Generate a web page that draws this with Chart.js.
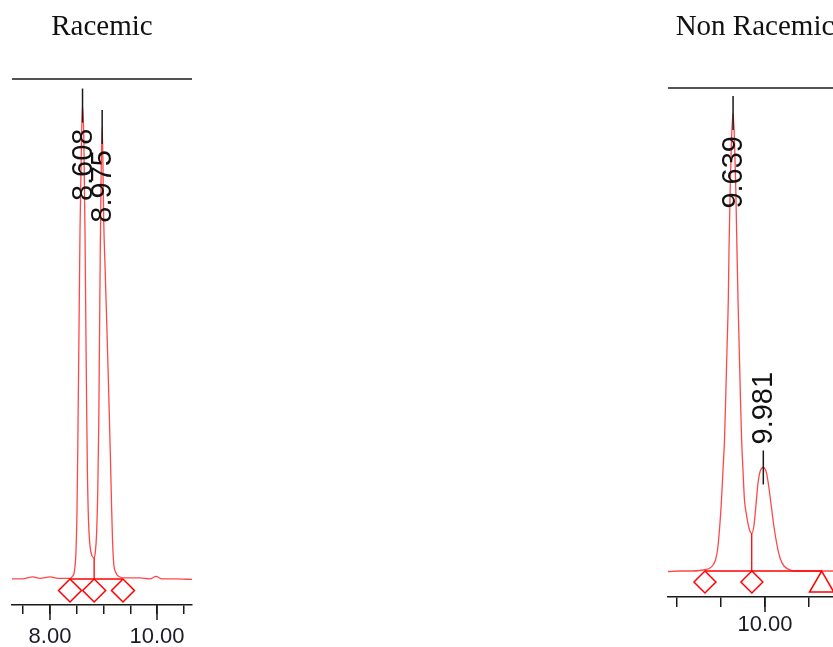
<!DOCTYPE html>
<html>
<head>
<meta charset="utf-8">
<script src="https://cdn.jsdelivr.net/npm/chart.js@4.4.1/dist/chart.umd.min.js"></script>
<style>
  html, body { margin: 0; padding: 0; background: #fff; overflow: hidden; }
  #wrap { position: relative; width: 833px; height: 647px; overflow: hidden; }
  #left { position: absolute; left: 0; top: 0; }
  #right { position: absolute; left: 640px; top: 0; }
</style>
</head>
<body>
<div id="wrap">
  <canvas id="left" width="205" height="660"></canvas>
  <canvas id="right" width="202" height="647"></canvas>
</div>
<script>
// Racemic run: retention time (min) vs detector signal
var leftTime = [7.290, 7.477, 7.682, 7.813, 8.000, 8.150, 8.299, 8.374, 8.411, 8.458, 8.486, 8.505, 8.523,
  8.542, 8.561, 8.589, 8.608, 8.633, 8.654, 8.671, 8.684, 8.699, 8.720, 8.748, 8.785, 8.825, 8.845, 8.869,
  8.893, 8.912, 8.925, 8.940, 8.957, 8.975, 8.988, 9.003, 9.030, 9.058, 9.085, 9.108, 9.130, 9.150, 9.168,
  9.190, 9.234, 9.308, 9.383, 9.495, 9.682, 9.869, 9.981, 10.093, 10.336, 10.654];
var leftSignal = [0, 0, 0.4, 0.1, 0.4, 0.1, 0.1, 0.1, 0.4, 1.6, 5.6, 13.6, 29.6,
  49.6, 69.6, 87.6, 94.5, 87.6, 69.6, 49.6, 35.6, 21.6, 11.6, 6.6, 4.6, 4.2, 5.2, 8.6,
  17.6, 31.6, 47.6, 65.6, 81.6, 90.2, 84, 72, 62, 52, 42, 33, 24, 15, 8,
  3.2, 1.2, 0.4, 0.2, 0.2, 0.2, 0, 0.5, 0, 0, -0.1];
var leftPeaks = [8.608, 8.975];
var leftValley = 8.825;
var leftMarks = [8.374, 8.825, 9.364];
var leftMarkShapes = ['rectRot', 'rectRot', 'rectRot'];
var leftTicks = [8, 10];

// Non racemic run
var rightTime = [8.903, 9.038, 9.174, 9.265, 9.333, 9.378, 9.412, 9.440, 9.463, 9.485, 9.508, 9.525, 9.542,
  9.555, 9.570, 9.585, 9.593, 9.606, 9.621, 9.639, 9.655, 9.670, 9.683, 9.695, 9.709, 9.723, 9.736, 9.751,
  9.768, 9.791, 9.819, 9.850, 9.876, 9.898, 9.921, 9.943, 9.981, 10.017, 10.045, 10.074, 10.102, 10.136,
  10.170, 10.215, 10.271, 10.339, 10.452, 10.622, 10.871];
var rightSignal = [-0.1, 0, 0, 0.1, 0.3, 0.6, 1.2, 2.2, 4.2, 8.2, 14.2, 20.2, 26.2,
  34.2, 44.2, 54.2, 64.2, 76.2, 86.2, 91.6, 86.2, 76.2, 64.2, 54.2, 44.2, 34.2, 26.2, 20.2,
  14.2, 11.2, 8.6, 7.5, 9.2, 13.2, 17.6, 19.8, 20.7, 19.6, 16.6, 12.6, 8.8, 5.2,
  2.6, 1.0, 0.3, 0, 0, 0, 0];
var rightPeaks = [9.639, 9.981];
var rightValley = 9.850;
var rightMarks = [9.321, 9.852, 10.641];
var rightMarkShapes = ['rectRot', 'rectRot', 'triangle'];
var rightTicks = [10];

var RED = '#ff0000';
var INK = '#1a1a1a';
var PX_PER_UNIT = 5;

function signalAt(times, signal, t) {
  return signal[times.indexOf(t)];
}

// top border, long major ticks and the rotated retention-time labels
var chromDecor = {
  id: 'chromDecor',
  afterDraw: function(chart, args, opts) {
    var ctx = chart.ctx, area = chart.chartArea;
    var xs = chart.scales.x, ys = chart.scales.y;
    ctx.save();
    ctx.strokeStyle = INK;
    ctx.lineWidth = 1.6;
    ctx.beginPath();
    ctx.moveTo(area.left, area.top);
    ctx.lineTo(area.right, area.top);
    ctx.stroke();

    ctx.lineWidth = 1.5;
    opts.majors.forEach(function(v) {
      var x = xs.getPixelForValue(v);
      ctx.beginPath();
      ctx.moveTo(x, area.bottom);
      ctx.lineTo(x, area.bottom + opts.minorLen + opts.majorExtra);
      ctx.stroke();
    });

    ctx.font = '29px "Liberation Sans", Arial, sans-serif';
    ctx.fillStyle = '#111';
    opts.peaks.forEach(function(p) {
      var x = xs.getPixelForValue(p.t);
      var ya = ys.getPixelForValue(p.apex);
      var half = 17, gap = 6;
      ctx.beginPath();
      ctx.moveTo(x, ya - half);
      ctx.lineTo(x, ya + half);
      ctx.stroke();
      var text = p.t.toFixed(3);
      var w = ctx.measureText(text).width;
      var above = ya - half - gap - w > area.top;
      var start = above ? ya - half - gap : ya + half + gap + w;
      ctx.save();
      ctx.translate(x, start);
      ctx.rotate(-Math.PI / 2);
      ctx.textAlign = 'left';
      ctx.textBaseline = 'middle';
      ctx.fillText(text, 0, 1);
      ctx.restore();
    });
    ctx.restore();
  }
};

function buildChart(id, cfg) {
  var trace = cfg.time.map(function(t, i) { return {x: t, y: cfg.signal[i]}; });
  var marks = cfg.marks.map(function(t, i) {
    var r = cfg.shapes[i] === 'triangle' ? 14 : cfg.markRadius;
    return {x: t, y: -r / PX_PER_UNIT};
  });
  var radii = cfg.shapes.map(function(s) { return s === 'triangle' ? 14 : cfg.markRadius; });
  var valleyY = signalAt(cfg.time, cfg.signal, cfg.valley);
  var peaks = cfg.peaks.map(function(t) { return {t: t, apex: signalAt(cfg.time, cfg.signal, t)}; });

  return new Chart(document.getElementById(id), {
    type: 'line',
    data: {
      datasets: [
        {
          data: trace,
          borderColor: 'rgba(255,0,0,0.72)',
          borderWidth: 1.3,
          pointRadius: 0,
          cubicInterpolationMode: 'monotone'
        },
        {
          data: [{x: cfg.marks[0], y: 0}, {x: cfg.marks[cfg.marks.length - 1], y: 0}],
          borderColor: RED,
          borderWidth: 1.6,
          pointRadius: 0
        },
        {
          data: [{x: cfg.valley, y: valleyY}, {x: cfg.valley, y: 0}],
          borderColor: RED,
          borderWidth: 1.3,
          pointRadius: 0
        },
        {
          data: marks,
          showLine: false,
          pointStyle: cfg.shapes,
          pointRadius: radii,
          pointBorderColor: RED,
          pointBackgroundColor: 'rgba(0,0,0,0)',
          pointBorderWidth: 1.5,
          clip: false
        }
      ]
    },
    options: {
      responsive: false,
      animation: false,
      events: [],
      layout: { padding: cfg.padding, autoPadding: false },
      plugins: {
        legend: { display: false },
        tooltip: { enabled: false },
        title: {
          display: true,
          text: cfg.title,
          color: '#111',
          font: { family: '"Liberation Serif", "Times New Roman", serif', size: 29, weight: 'normal', lineHeight: 1.2 },
          padding: { top: 10, bottom: cfg.titleGap }
        },
        chromDecor: {
          majors: cfg.ticks,
          minorLen: cfg.tickLen,
          majorExtra: cfg.majorExtra,
          peaks: peaks
        }
      },
      scales: {
        x: {
          type: 'linear',
          min: cfg.xMin,
          max: cfg.xMax,
          border: { display: true, color: INK, width: 1.6 },
          grid: { drawOnChartArea: false, drawTicks: true, tickLength: cfg.tickLen, color: INK, lineWidth: 1.5 },
          ticks: {
            stepSize: 0.5,
            includeBounds: false,
            autoSkip: false,
            maxRotation: 0,
            padding: cfg.labelPad,
            color: '#1c1c28',
            font: { family: '"Liberation Sans", Arial, sans-serif', size: 22, lineHeight: 1 },
            callback: function(v) { return cfg.ticks.indexOf(v) >= 0 ? v.toFixed(2) : ''; }
          }
        },
        y: {
          display: false,
          min: cfg.yMin,
          max: cfg.yMax
        }
      }
    },
    plugins: [chromDecor]
  });
}

buildChart('left', {
  title: 'Racemic',
  time: leftTime, signal: leftSignal, peaks: leftPeaks, valley: leftValley,
  marks: leftMarks, shapes: leftMarkShapes, ticks: leftTicks,
  markRadius: 11.5,
  xMin: 7.29, xMax: 10.654, yMin: -5.2, yMax: 99.8,
  padding: { left: 12, right: 13, top: 0, bottom: 0 },
  titleGap: 34.2, tickLen: 9, majorExtra: 6, labelPad: 12
});

buildChart('right', {
  title: 'Non Racemic',
  time: rightTime, signal: rightSignal, peaks: rightPeaks, valley: rightValley,
  marks: rightMarks, shapes: rightMarkShapes, ticks: rightTicks,
  markRadius: 11,
  xMin: 8.903, xMax: 10.871, yMin: -5.2, yMax: 96.6,
  padding: { left: 28, right: 0, top: 0, bottom: 4 },
  titleGap: 43.2, tickLen: 10, majorExtra: 5, labelPad: 7
});
</script>
</body>
</html>
